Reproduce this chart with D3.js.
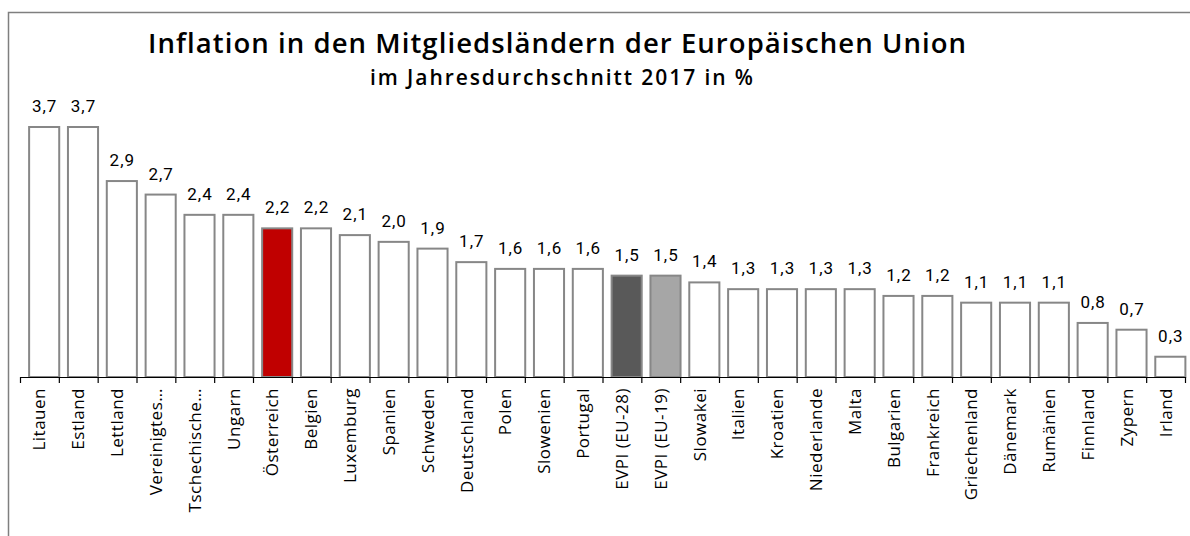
<!DOCTYPE html>
<html>
<head>
<meta charset="utf-8">
<script src="https://cdn.jsdelivr.net/npm/d3@7"></script>
<style>
  html, body { margin: 0; padding: 0; background: #fff; }
  svg { display: block; }
  .title { font-family: "Open Sans", sans-serif; font-weight: 600; fill: #000; }
  .value { font-family: Roboto, sans-serif; font-size: 17px; letter-spacing: 1px; fill: #000; }
  .cat { font-family: "Open Sans", sans-serif; font-size: 17px; letter-spacing: 0.5px; fill: #000; }
</style>
</head>
<body>
<div id="chart"></div>
<script>
const categories = [
  "Litauen", "Estland", "Lettland", "Vereinigtes…", "Tschechische…", "Ungarn",
  "Österreich", "Belgien", "Luxemburg", "Spanien", "Schweden", "Deutschland",
  "Polen", "Slowenien", "Portugal", "EVPI (EU-28)", "EVPI (EU-19)", "Slowakei",
  "Italien", "Kroatien", "Niederlande", "Malta", "Bulgarien", "Frankreich",
  "Griechenland", "Dänemark", "Rumänien", "Finnland", "Zypern", "Irland"
];
const values = [
  3.7, 3.7, 2.9, 2.7, 2.4, 2.4,
  2.2, 2.2, 2.1, 2.0, 1.9, 1.7,
  1.6, 1.6, 1.6, 1.5, 1.5, 1.4,
  1.3, 1.3, 1.3, 1.3, 1.2, 1.2,
  1.1, 1.1, 1.1, 0.8, 0.7, 0.3
];
const highlight = { "Österreich": "#c00000", "EVPI (EU-28)": "#595959", "EVPI (EU-19)": "#a6a6a6" };

const width = 1190, height = 536;
const baseY = 377;

const svg = d3.select("#chart").append("svg")
  .attr("width", width).attr("height", height);

// outer frame (left and top edges visible)
svg.append("path")
  .attr("d", `M8.5,${height + 5} V12.5 H${width + 5}`)
  .attr("fill", "none").attr("stroke", "#7f7f7f").attr("stroke-width", 1.5);

// titles: fixed size, letter spacing stretched to the width seen in the original
function fitTitle(text, x0, x1, baseline, size) {
  const t = svg.append("text").attr("class", "title")
    .attr("x", x0).attr("y", baseline)
    .attr("font-size", size).text(text);
  const w = t.node().getComputedTextLength();
  const n = text.length - 1;
  const ls = Math.max(0, (x1 - x0 - w) / n);
  t.attr("letter-spacing", ls);
}
fitTitle("Inflation in den Mitgliedsländern der Europäischen Union", 148, 966, 53, 27.5);
fitTitle("im Jahresdurchschnitt 2017 in %", 370, 753, 85, 21);

const data = categories.map((c, i) => ({ name: c, value: values[i] }));

const x = d3.scaleBand().domain(categories).range([20.5, 1185.5]).paddingInner(0).paddingOuter(0);
const y = d3.scaleLinear().domain([0, 3.7]).range([baseY, 127]);
const fmt = d3.formatLocale({ decimal: ",", thousands: ".", grouping: [3], currency: ["", "€"] }).format(".1f");

const bw = x.bandwidth();
const barOff = bw * 0.222;
const barW = bw * 0.775;

svg.append("g").selectAll("rect").data(data).enter().append("rect")
  .attr("x", d => x(d.name) + barOff)
  .attr("y", d => y(d.value))
  .attr("width", barW)
  .attr("height", d => baseY - y(d.value))
  .attr("fill", d => highlight[d.name] || "#fff")
  .attr("stroke", "#878787")
  .attr("stroke-width", 2);

svg.append("g").selectAll("text").data(data).enter().append("text")
  .attr("class", "value")
  .attr("x", d => x(d.name) + barOff + barW / 2 + 0.5)
  .attr("y", d => y(d.value) - 15)
  .attr("text-anchor", "middle")
  .text(d => fmt(d.value));

// category axis
const axis = svg.append("g").attr("transform", `translate(0,${baseY})`);
axis.append("line").attr("x1", 20.5).attr("x2", 1185.5).attr("y1", 0.5).attr("y2", 0.5)
  .attr("stroke", "#000").attr("stroke-width", 1.2);
const tickPos = categories.map(c => x(c)).concat([x.range()[1]]);
axis.selectAll("line.tick").data(tickPos).enter().append("line")
  .attr("class", "tick")
  .attr("x1", d => d).attr("x2", d => d).attr("y1", 0).attr("y2", 6)
  .attr("stroke", "#000").attr("stroke-width", 1.2);

axis.selectAll("text.cat").data(categories).enter().append("text")
  .attr("class", "cat")
  .attr("transform", d => `translate(${x(d) + bw / 2 + 5.5},11) rotate(-90)`)
  .attr("text-anchor", "end")
  .text(d => d);
</script>
</body>
</html>
